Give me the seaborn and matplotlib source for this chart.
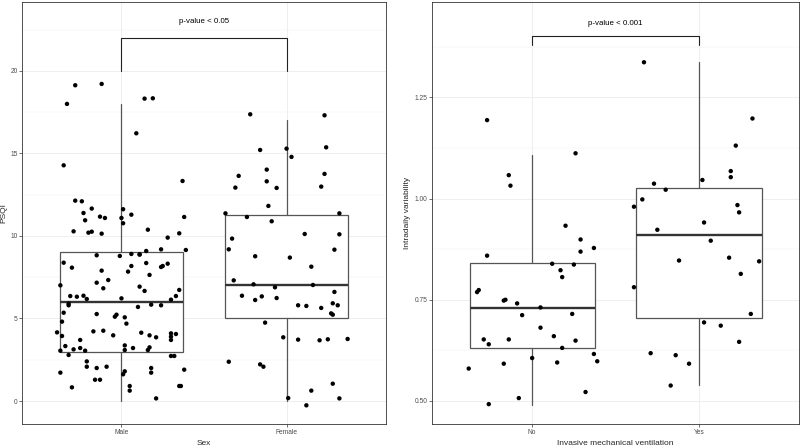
import numpy as np
import pandas as pd
import matplotlib
matplotlib.use("Agg")
import matplotlib.pyplot as plt
import seaborn as sns

# ---- data ----
sex_levels = ["Male", "Female"]
male_psqi = [19.13, 19.21, 18.0, 18.32, 18.34, 14.28, 16.22, 13.33, 12.14, 12.10, 11.39, 11.66, 10.95,
             11.17, 11.09, 10.28, 10.20, 10.26, 10.14, 11.62, 11.09, 10.77, 11.29, 11.15, 10.38, 10.16,
             9.90, 9.15, 8.38, 8.08, 8.83, 7.90, 7.33, 7.17, 6.83, 8.79, 8.91, 8.18, 7.84, 8.87, 8.89,
             9.09, 8.36, 7.64, 9.19, 8.12, 8.18, 8.32, 6.93, 6.67, 7.01, 6.36, 6.32, 6.38, 6.18, 5.90,
             5.80, 5.35, 4.81, 6.22, 5.27, 5.23, 5.11, 5.07, 4.69, 5.70, 5.84, 5.80, 6.14, 6.36, 6.73,
             4.16, 3.94, 3.33, 3.05, 3.13, 3.70, 3.21, 3.05, 4.22, 4.26, 3.98, 3.37, 3.09, 3.21, 4.14,
             3.98, 3.25, 3.09, 3.86, 4.10, 3.90, 4.06, 3.70, 2.73, 2.73, 2.79, 2.40, 2.08, 2.00, 2.08,
             1.72, 1.29, 1.29, 0.83, 1.80, 1.62, 0.91, 0.63, 2.00, 1.72, 1.90, 0.91, 0.91, 0.16]
male_jitter = [-0.28, -0.12, -0.33, 0.14, 0.19, -0.35, 0.09, 0.37, -0.28, -0.24, -0.23, -0.18, -0.22,
               -0.13, -0.10, -0.29, -0.20, -0.18, -0.12, 0.01, 0.00, 0.01, 0.06, 0.38, 0.16, 0.35,
               0.28, 0.39, -0.35, -0.30, -0.15, -0.12, -0.08, -0.15, -0.11, -0.01, 0.06, 0.06, 0.04,
               0.11, 0.11, 0.15, 0.15, 0.17, 0.24, 0.24, 0.25, 0.28, 0.11, 0.14, -0.37, -0.31, -0.27,
               -0.23, -0.21, -0.32, -0.32, -0.35, -0.36, 0.00, -0.15, -0.03, -0.04, 0.02, 0.03, 0.10,
               0.18, 0.24, 0.30, 0.33, 0.35, -0.39, -0.36, -0.34, -0.37, -0.29, -0.25, -0.25, -0.22,
               -0.17, -0.11, -0.05, 0.02, 0.02, 0.07, 0.12, 0.17, 0.17, 0.16, 0.21, 0.30, 0.30, 0.33,
               0.30, 0.30, 0.32, -0.32, -0.21, -0.21, -0.15, -0.09, -0.37, -0.16, -0.13, -0.30, 0.02,
               0.01, 0.05, 0.05, 0.18, 0.18, 0.38, 0.35, 0.36, 0.21]
female_psqi = [17.37, 17.31, 15.21, 15.29, 14.79, 15.37, 14.02, 13.64, 12.93, 13.31, 12.91, 13.76, 12.99,
               11.82, 11.37, 11.15, 10.89, 11.37, 9.84, 9.19, 8.77, 8.69, 10.12, 10.10, 9.17, 8.14,
               7.31, 7.07, 6.89, 7.03, 6.38, 6.34, 6.12, 6.24, 6.61, 5.80, 5.76, 5.64, 5.92, 5.80, 5.31,
               5.23, 4.75, 3.86, 3.72, 3.68, 3.74, 3.76, 2.38, 2.22, 2.08, 0.18, 0.63, 1.05, 0.16, -0.26]
female_jitter = [-0.22, 0.23, -0.16, 0.00, 0.03, 0.24, -0.12, -0.29, -0.31, -0.12, -0.06, 0.23, 0.21,
                 -0.11, -0.37, -0.24, -0.09, 0.32, -0.33, -0.35, -0.19, 0.02, 0.11, 0.32, 0.29, 0.15,
                 -0.32, -0.20, -0.07, 0.16, -0.27, -0.15, -0.19, -0.06, 0.29, 0.07, 0.12, 0.21, 0.28,
                 0.31, 0.27, 0.28, -0.13, -0.02, 0.07, 0.20, 0.25, 0.37, -0.35, -0.16, -0.14, 0.01,
                 0.15, 0.28, 0.32, 0.12]
# box stats: whisker low, q1, median, q3, whisker high
psqi_box = {"Male": [0, 3, 6, 9, 18], "Female": [0, 5, 7, 11.25, 17]}

imv_levels = ["No", "Yes"]
no_iv = [1.194, 1.058, 1.032, 1.112, 0.933, 0.899, 0.869, 0.878, 0.859, 0.839, 0.837, 0.823, 0.806,
         0.769, 0.774, 0.748, 0.750, 0.741, 0.731, 0.712, 0.715, 0.681, 0.652, 0.640, 0.652, 0.660,
         0.631, 0.649, 0.616, 0.598, 0.580, 0.592, 0.606, 0.595, 0.507, 0.492, 0.522]
no_jitter = [-0.27, -0.14, -0.13, 0.26, 0.20, 0.29, 0.29, 0.37, -0.27, 0.12, 0.25, 0.17, 0.18, -0.33,
             -0.32, -0.17, -0.16, -0.09, 0.05, -0.06, 0.24, 0.05, -0.29, -0.26, -0.14, 0.13, 0.18,
             0.26, 0.37, 0.39, -0.38, -0.17, 0.00, 0.15, -0.08, -0.26, 0.32]
yes_iv = [1.337, 1.198, 1.131, 1.068, 1.053, 1.046, 1.037, 1.022, 0.998, 0.980, 0.984, 0.966, 0.941,
          0.923, 0.896, 0.854, 0.847, 0.845, 0.814, 0.781, 0.715, 0.694, 0.686, 0.646, 0.618, 0.613,
          0.592, 0.538]
yes_jitter = [-0.33, 0.32, 0.22, 0.19, 0.19, 0.02, -0.27, -0.20, -0.34, -0.39, 0.23, 0.24, 0.03, -0.25,
              0.07, 0.18, -0.12, 0.36, 0.25, -0.39, 0.31, 0.03, 0.13, 0.24, -0.29, -0.14, -0.06, -0.17]
iv_box = {"No": [0.491, 0.630, 0.730, 0.840, 1.109], "Yes": [0.540, 0.705, 0.909, 1.025, 1.338]}

# bracket: (low end, top), label
psqi_bracket = (20, 22, 23.0, "p-value < 0.05")
iv_bracket = (1.380, 1.401, 1.433, "p-value < 0.001")

sns.set_theme(style="whitegrid")
plt.rcParams["font.family"] = ["Liberation Sans", "DejaVu Sans"]

fig = plt.figure(figsize=(8, 4.47), dpi=100)
ax1 = fig.add_axes([0.028, 0.0515, 0.454, 0.945])
ax2 = fig.add_axes([0.540, 0.0515, 0.459, 0.945])


def panel(ax, levels, values, jitters, box, bracket, ylim, yticks, ylabels, minor, xlabel, ylabel):
    df = pd.DataFrame({
        "pos": np.concatenate([i + np.array(j) for i, j in enumerate(jitters)]),
        "val": np.concatenate([np.array(v) for v in values]),
    })
    stats = []
    for lv in levels:
        lo, q1, med, q3, hi = box[lv]
        stats.append(dict(whislo=lo, q1=q1, med=med, q3=q3, whishi=hi, fliers=[]))
    ax.bxp(stats, positions=range(len(levels)), widths=0.75, showcaps=False, patch_artist=True,
           boxprops=dict(facecolor="white", edgecolor="#555555", linewidth=0.9),
           whiskerprops=dict(color="#555555", linewidth=0.9),
           medianprops=dict(color="#333333", linewidth=1.7), zorder=2)
    sns.scatterplot(data=df, x="pos", y="val", ax=ax, color="black", s=10, edgecolor="none",
                    zorder=3, legend=False)
    lo, top, ty, txt = bracket
    ax.plot([0, 0, 1, 1], [lo, top, top, lo], color="#222222", lw=0.8, zorder=3)
    ax.text(0.5, ty, txt, ha="center", va="center", fontsize=5.7, color="black")
    ax.set_xlim(-0.6, len(levels) - 0.4)
    ax.set_ylim(*ylim)
    ax.set_xticks(range(len(levels)))
    ax.set_xticklabels(levels)
    ax.set_yticks(yticks)
    ax.set_yticklabels(ylabels)
    ax.set_yticks(minor, minor=True)
    ax.grid(True, which="major", color="#EBEBEB", lw=0.6)
    ax.grid(True, which="minor", axis="y", color="#F2F2F2", lw=0.35)
    ax.set_axisbelow(True)
    ax.tick_params(axis="both", which="major", labelsize=4.8, labelcolor="#4D4D4D", length=2,
                   width=0.5, color="#333333", pad=1.5, bottom=True, left=True)
    ax.tick_params(axis="both", which="minor", length=0)
    ax.set_xlabel(xlabel, fontsize=6, labelpad=3)
    ax.set_ylabel(ylabel, fontsize=6, labelpad=2)
    for s in ax.spines.values():
        s.set_color("#333333")
        s.set_linewidth(0.6)
    ax.set_facecolor("white")


panel(ax1, sex_levels, [male_psqi, female_psqi], [male_jitter, female_jitter], psqi_box, psqi_bracket,
      (-1.39, 24.2), [0, 5, 10, 15, 20], ["0", "5", "10", "15", "20"], [2.5, 7.5, 12.5, 17.5, 22.5],
      "Sex", "PSQI")
panel(ax2, imv_levels, [no_iv, yes_iv], [no_jitter, yes_jitter], iv_box, iv_bracket,
      (0.443, 1.487), [0.5, 0.75, 1.0, 1.25], ["0.50", "0.75", "1.00", "1.25"], [0.625, 0.875, 1.125, 1.375],
      "Invasive mechanical ventilation", "Intradaily variability")

fig.savefig("out.png", dpi=100)
